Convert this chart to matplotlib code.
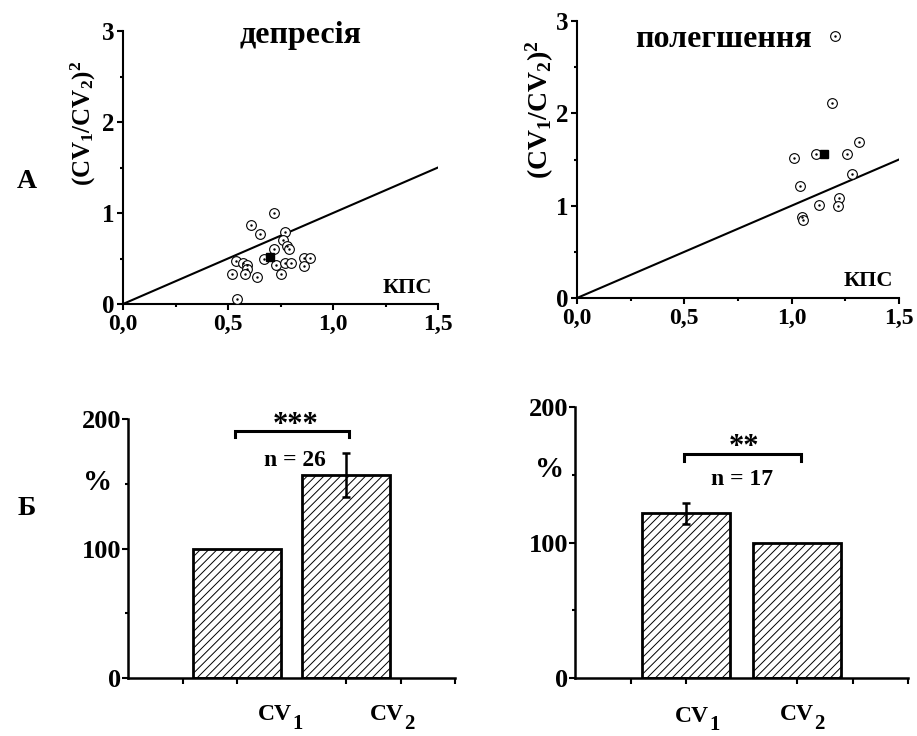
import matplotlib
matplotlib.use("Agg")
import matplotlib.pyplot as plt
import numpy as np

plt.rcParams['font.family'] = ['Liberation Serif', 'DejaVu Serif']
plt.rcParams['font.weight'] = 'bold'
plt.rcParams['mathtext.fontset'] = 'custom'
plt.rcParams['mathtext.rm'] = 'Liberation Serif:bold'
plt.rcParams['mathtext.it'] = 'Liberation Serif:bold'
plt.rcParams['mathtext.bf'] = 'Liberation Serif:bold'
plt.rcParams['mathtext.default'] = 'rm'
plt.rcParams['hatch.linewidth'] = 0.7

# ---------------- data ----------------
# A: depression (депресія)
dep_x = [0.72, 0.61, 0.65, 0.77, 0.76, 0.78, 0.79, 0.72, 0.67, 0.54, 0.57, 0.59,
         0.59, 0.58, 0.52, 0.64, 0.73, 0.75, 0.77, 0.80, 0.86, 0.89, 0.86, 0.545]
dep_y = [1.00, 0.87, 0.77, 0.79, 0.70, 0.64, 0.60, 0.60, 0.49, 0.47, 0.45, 0.43,
         0.38, 0.33, 0.335, 0.30, 0.425, 0.33, 0.45, 0.45, 0.51, 0.51, 0.415, 0.05]
dep_mean_x = [0.70]
dep_mean_y = [0.52]

# A: facilitation (полегшення)
pol_x = [1.20, 1.19, 1.315, 1.01, 1.115, 1.26, 1.28, 1.04, 1.125, 1.22, 1.215, 1.048, 1.053]
pol_y = [2.84, 2.11, 1.69, 1.52, 1.56, 1.56, 1.34, 1.215, 1.005, 1.08, 1.00, 0.88, 0.845]
pol_mean_x = [1.152]
pol_mean_y = [1.558]

identity = [0.0, 1.5]

scatter_xticks = [0.0, 0.5, 1.0, 1.5]
scatter_xticklabels = ['0,0', '0,5', '1,0', '1,5']
scatter_yticks = [0, 1, 2, 3]

# Б: bar charts
bar_pos = [2, 4]
bar_names = ['CV', 'CV']
bar_subs = ['1', '2']
dep_vals = [100.0, 157.0]
dep_err = [0.0, 17.0]
dep_err_mask = [False, True]
pol_vals = [121.5, 100.0]
pol_err = [7.6, 0.0]
pol_err_mask = [True, False]
bar_yticks = [0, 100, 200]

W, H = 917, 736
fig = plt.figure(figsize=(W / 100, H / 100), dpi=100)


def P(x, y):
    return x / W, 1 - y / H


def rect(l, t, r, b):
    return [l / W, 1 - b / H, (r - l) / W, (b - t) / H]


def style_axes(ax, lw=1.5):
    for s in ['top', 'right']:
        ax.spines[s].set_visible(False)
    for s in ['left', 'bottom']:
        ax.spines[s].set_linewidth(lw)
    ax.tick_params(which='major', direction='out', length=4, width=1.5, pad=2)
    ax.tick_params(which='minor', direction='out', length=2.5, width=1.5)


def scatter_panel(ax, xs, ys, mx, my):
    style_axes(ax)
    ax.plot(identity, identity, color='black', lw=1.5, zorder=2)
    ax.plot(xs, ys, linestyle='none', marker='o', markersize=7,
            markerfacecolor='white', markeredgecolor='black',
            markeredgewidth=0.8, clip_on=False, zorder=3)
    ax.plot(xs, ys, linestyle='none', marker='.', markersize=1.5,
            color='black', clip_on=False, zorder=4)
    ax.plot(mx, my, linestyle='none', marker='s', markersize=6.3,
            color='black', clip_on=False, zorder=5)
    ax.set_xlim(0, 1.5)
    ax.set_ylim(0, 3)
    ax.set_xticks(scatter_xticks)
    ax.set_xticklabels(scatter_xticklabels)
    ax.set_xticks([0.25, 0.75, 1.25], minor=True)
    ax.set_yticks(scatter_yticks)
    ax.set_yticks([0.5, 1.5, 2.5], minor=True)
    ax.tick_params(axis='x', labelsize=17, pad=3)
    ax.tick_params(axis='y', labelsize=18)


def bar_panel(ax, vals, err, mask):
    style_axes(ax, lw=1.8)
    ax.bar(bar_pos, vals, width=1.6, color='white', edgecolor='black',
           linewidth=2, hatch='////', zorder=2)
    ex = [p for p, m in zip(bar_pos, mask) if m]
    ey = [v for v, m in zip(vals, mask) if m]
    ee = [e for e, m in zip(err, mask) if m]
    ax.errorbar(ex, ey, yerr=ee, fmt='none', ecolor='black', elinewidth=1.8,
                capsize=3, capthick=1.8, zorder=3)
    ax.set_xlim(0, 6)
    ax.set_ylim(0, 200)
    ax.set_xticks([1, 2, 4, 5, 6])
    ax.set_xticklabels([])
    ax.set_yticks(bar_yticks)
    ax.set_yticks([50, 150], minor=True)
    ax.tick_params(axis='y', labelsize=19, pad=1)


def bracket(ax, x0, x1, y, drop):
    ax.plot([x0, x0, x1, x1], [y - drop, y, y, y - drop], color='black',
            lw=2.2, solid_joinstyle='miter', clip_on=False, zorder=4)


# ---- top left ----
ax1 = fig.add_axes(rect(123, 31, 438, 304))
scatter_panel(ax1, dep_x, dep_y, dep_mean_x, dep_mean_y)

# ---- top right ----
ax2 = fig.add_axes(rect(577, 21, 899, 298))
scatter_panel(ax2, pol_x, pol_y, pol_mean_x, pol_mean_y)

# ---- bottom left ----
ax3 = fig.add_axes(rect(128, 419, 455, 678))
bar_panel(ax3, dep_vals, dep_err, dep_err_mask)
bracket(ax3, 1.97, 4.05, 191, 5)

# ---- bottom right ----
ax4 = fig.add_axes(rect(575, 407, 908, 678))
bar_panel(ax4, pol_vals, pol_err, pol_err_mask)
bracket(ax4, 1.97, 4.07, 165, 5)

# ---------------- texts ----------------
def ftext(x, y, s, size, ha='center', va='baseline', **kw):
    fig.text(*P(x, y), s, fontsize=size, ha=ha, va=va, fontweight='bold', **kw)


ftext(300, 43, 'депресія', 23)
ftext(723, 47, 'полегшення', 23)
ftext(407, 293, 'КПС', 16)
ftext(868, 286, 'КПС', 16)
ftext(27, 188, 'А', 20)
ftext(27, 515, 'Б', 20)

ylab = '(CV$_1$/CV$_2$)$^2$'
fig.text(*P(91, 123), ylab, fontsize=18, rotation=90, rotation_mode='anchor',
         ha='center', va='baseline', fontweight='bold')
fig.text(*P(548, 110), ylab, fontsize=20, rotation=90, rotation_mode='anchor',
         ha='center', va='baseline', fontweight='bold')

ftext(98, 490, '%', 21)
ftext(550, 477, '%', 21)
ftext(295, 466, 'n = 26', 17)
ftext(742, 485, 'n = 17', 17)
ftext(296, 433, '***', 22)
ftext(744, 455, '**', 22)

# CV labels with large subscripts, placed as in the reference
cv_left = [(258, 720, 292, 729), (370, 720, 404, 729)]
cv_right = [(675, 722, 709, 730), (780, 720, 814, 729)]
for (cx, cy, sx, sy), name, sub in zip(cv_left + cv_right,
                                        bar_names + bar_names,
                                        bar_subs + bar_subs):
    ftext(cx, cy, name, 17, ha='left')
    ftext(sx, sy, sub, 15, ha='left')

fig.savefig('out.png', dpi=100)
